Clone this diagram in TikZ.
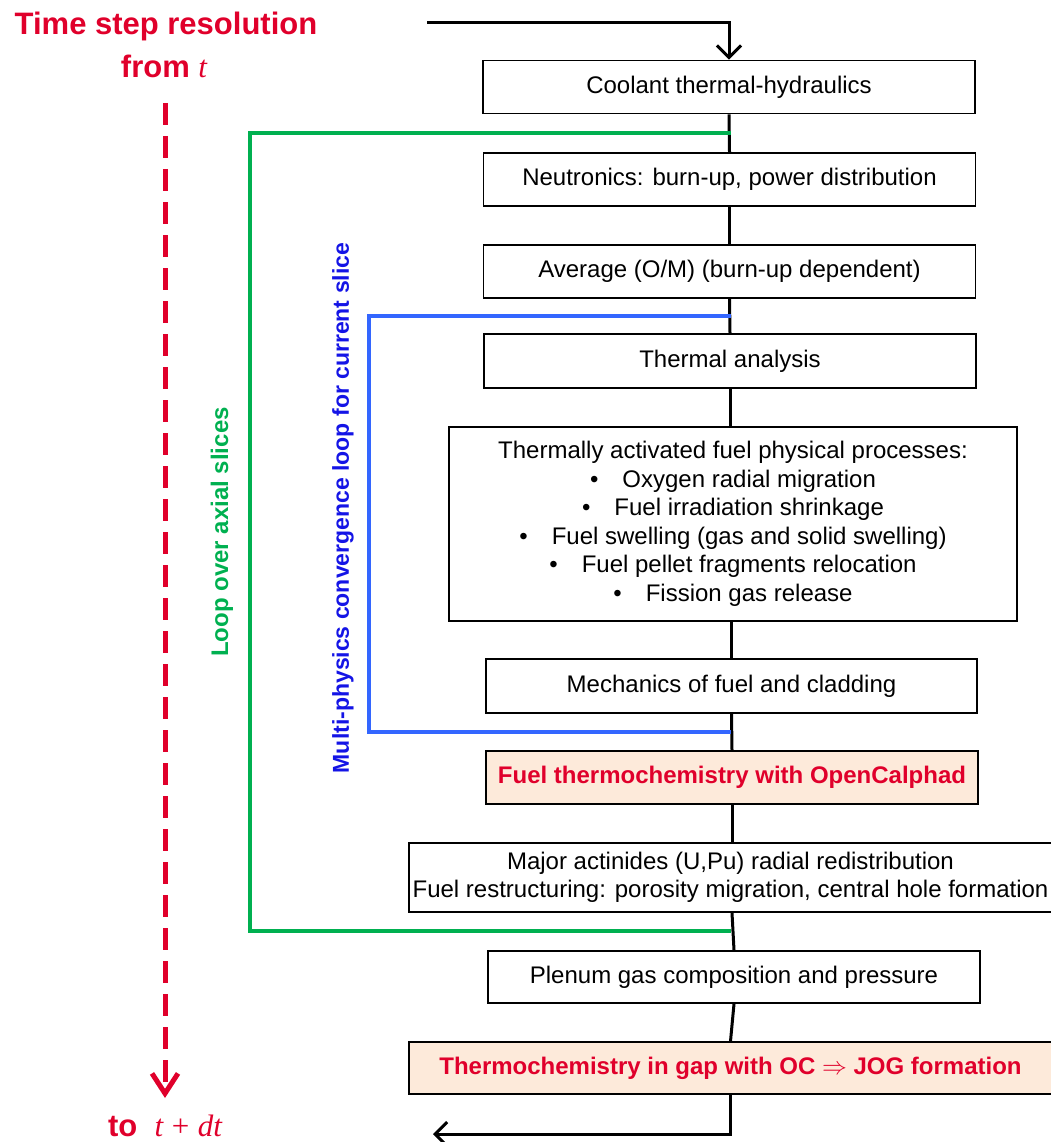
\documentclass[tikz,border=0pt]{standalone}
\usepackage{fontspec}
\setmainfont{Liberation Sans}
\newfontfamily\tms{Liberation Serif}
\usetikzlibrary{arrows.meta}
\definecolor{hired}{RGB}{224,0,43}
\definecolor{loopgreen}{RGB}{0,176,80}
\definecolor{loopblue}{RGB}{51,102,255}
\definecolor{labelblue}{RGB}{20,20,230}
\definecolor{peach}{RGB}{253,234,218}
\begin{document}
\begin{tikzpicture}[x=1pt,y=-1pt,
  box/.style={draw,line width=1.8pt,inner sep=0pt,align=center,minimum width=492pt,minimum height=53pt,font=\fontsize{24}{28.5}\selectfont},
  chem/.style={box,fill=peach,text=hired,font=\fontsize{24}{28.5}\selectfont\bfseries},
  link/.style={line width=3pt},
  tip/.style={-{Straight Barb[length=12pt,width=24pt,line width=3pt]}}]
\useasboundingbox (0,0) rectangle (1050,1142);
% flow of the time step
\node[box] (cool) at (729,87) {Coolant thermal-hydraulics};
\node[box] (neut) at (729.5,179.5) {Neutronics: burn-up, power distribution};
\node[box] (avg) at (729.5,271.5) {Average (O/M) (burn-up dependent)};
\node[box,minimum height=54pt] (therm) at (730,361) {Thermal analysis};
\node[box,minimum width=568pt,minimum height=194pt] (proc) at (733,524) {Thermally activated fuel physical processes:\\
  \textbullet\hspace{24pt}Oxygen radial migration\\
  \textbullet\hspace{24pt}Fuel irradiation shrinkage\\
  \textbullet\hspace{24pt}Fuel swelling (gas and solid swelling)\\
  \textbullet\hspace{24pt}Fuel pellet fragments relocation\\
  \textbullet\hspace{24pt}Fission gas release};
\node[box,minimum width=491pt,minimum height=54pt] (mech) at (731.5,686) {Mechanics of fuel and cladding};
\node[chem] (fchem) at (732,777.5) {Fuel thermochemistry with OpenCalphad};
\node[box,minimum width=643pt,minimum height=69pt] (act) at (730.5,877.5) {Major actinides (U,Pu) radial redistribution\\Fuel restructuring: porosity migration, central hole formation};
\node[box,minimum height=52pt] (plen) at (734,977) {Plenum gas composition and pressure};
\node[chem,minimum width=643pt,minimum height=52pt] (gchem) at (730.5,1068) {Thermochemistry in gap with OC $\Rightarrow$ JOG formation};
\draw[link] (cool.south) -- (neut.north);
\draw[link] (neut.south) -- (avg.north);
\draw[link] (avg.south) -- (therm.north);
\draw[link] (therm.south) -- (proc.north -| therm.south);
\draw[link] (proc.south -| mech.north) -- (mech.north);
\draw[link] (mech.south) -- (fchem.north);
\draw[link] (fchem.south) -- (act.north -| fchem.south);
\draw[link] (act.south -| fchem.south) -- (plen.north);
\draw[link] (plen.south) -- (gchem.north);
\coordinate (in) at (427,23);
\coordinate (out) at (433,1134);
\draw[link,tip] (in) -| (cool.north);
\draw[link,tip] (gchem.south) |- (out);
% loops
\coordinate (g1) at (731,133);
\coordinate (g2) at (731,931);
\coordinate (b1) at (731,316);
\coordinate (b2) at (731,732);
\draw[loopgreen,line width=3.5pt] (g1) -| (250,931) -- (g2);
\draw[loopblue,line width=3.5pt] (b1) -| (369,732) -- (b2);
\node[rotate=90,text=loopgreen,font=\fontsize{24}{24}\selectfont\bfseries] (axial) at (222,532) {Loop over axial slices};
\node[rotate=90,text=labelblue,font=\fontsize{23}{23}\selectfont\bfseries] (conv) at (343,508) {Multi-physics convergence loop for current slice};
% time step
\node[anchor=base,text=hired,font=\fontsize{31}{31}\selectfont\bfseries] (title) at (166,35) {Time step resolution};
\node[anchor=base,text=hired,font=\fontsize{31}{31}\selectfont\bfseries] (from) at (164,78) {from {\tms\mdseries\itshape t}};
\node[anchor=base,text=hired,font=\fontsize{31}{31}\selectfont\bfseries,inner sep=1pt] (to) at (165,1136) {to\ \ {\tms\mdseries\itshape t} {\tms\mdseries +} {\tms\mdseries\itshape dt}};
\draw[hired,line width=5pt,dash pattern=on 22pt off 11pt,-{Straight Barb[length=20pt,width=26pt,line width=5pt]}] (165,103) -- (165,1098);
\end{tikzpicture}
\end{document}
